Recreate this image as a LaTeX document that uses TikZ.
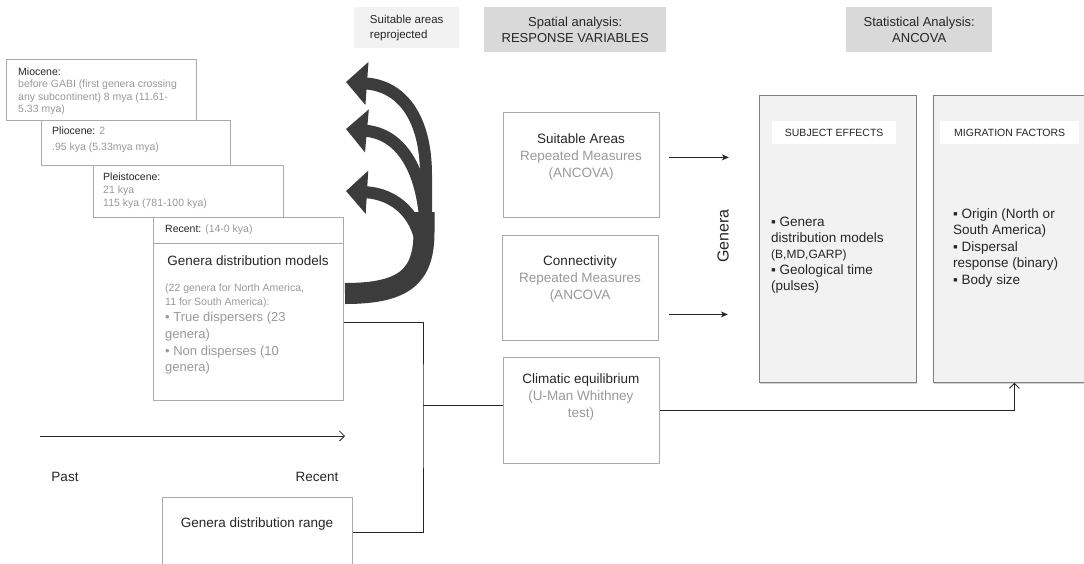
\documentclass[tikz,border=0pt]{standalone}
\usepackage{fontspec}
\setmainfont{Liberation Sans}
\usetikzlibrary{arrows.meta,shadows}
\definecolor{ink}{HTML}{262626}
\definecolor{soft}{HTML}{999999}
\definecolor{rule}{HTML}{ABABAB}
\definecolor{band}{HTML}{3C3C3C}
\definecolor{pale}{HTML}{F2F2F2}
\definecolor{mid}{HTML}{D9D9D9}
\newcommand{\fs}[2]{\fontsize{#1}{#2}\selectfont}

\begin{document}
\begin{tikzpicture}[x=1pt,y=-1pt,
	box/.style={draw=rule,fill=white,line width=.8pt,inner sep=0pt,anchor=north west},
	headbox/.style={fill=mid,inner sep=0pt,anchor=north west,text=ink},
	stat/.style={draw=rule!75!black,fill=pale,line width=.8pt,inner sep=0pt,anchor=north west,
		drop shadow={shadow xshift=1pt,shadow yshift=-1.5pt,opacity=.35}},
	txt/.style={inner sep=0pt,text=soft,align=left,anchor=north west},
	lbl/.style={inner sep=0pt,text=ink},
	link/.style={draw=ink,line width=.8pt},
	pointer/.style={link,-{Stealth[length=7pt,width=6pt]}},
	openptr/.style={link,-{Straight Barb[length=5pt,width=10pt]}},
	bigarrow/.style={draw=band,line width=12pt,-{Triangle[length=21pt,width=42pt]}}
	]
	
	\path[use as bounding box] (0,0) rectangle (1084,563);
	\clip (0,0) rectangle (1084,563);
	
	% headers
	\node[headbox,fill=pale,minimum width=105pt,minimum height=41pt,align=left,font=\fs{11.5}{15}] (reproj) at (354,7) {Suitable areas\\reprojected};
	\node[headbox,minimum width=182pt,minimum height=45pt,align=center,font=\fs{13}{16}] (spatial) at (484,7) {Spatial analysis:\\RESPONSE VARIABLES};
	\node[headbox,minimum width=146pt,minimum height=45pt,align=center,font=\fs{13}{15.5}] (statistical) at (846,7) {Statistical Analysis:\\ANCOVA};
	
	% time slices
	\node[box,minimum width=190pt,minimum height=61pt] (miocene) at (6,59) {};
	\node[txt,font=\fs{10.5}{12.5}] (miotext) at (18,67.5) {\textcolor{ink}{Miocene:}\\before GABI (first genera crossing\\any subcontinent) 8 mya (11.61-\\5.33 mya)};
	
	\node[box,minimum width=189pt,minimum height=45pt] (pliocene) at (41,120) {};
	\node[txt,font=\fs{10.5}{12.5}] (pliotext) at (52,126.5) {\textcolor{ink}{Pliocene:} 2\\[3.5pt].95 kya (5.33mya mya)};
	
	\node[box,minimum width=190pt,minimum height=52pt] (pleistocene) at (93,165) {};
	\node[txt,font=\fs{10.5}{13}] (pleistext) at (103,172.5) {\textcolor{ink}{Pleistocene:}\\21 kya\\115 kya (781-100 kya)};
	
	\node[box,minimum width=190pt,minimum height=183pt] (recent) at (153,217) {};
	\draw[draw=rule,line width=.8pt] ([yshift=-26pt]recent.north west) -- ([yshift=-26pt]recent.north east);
	\node[txt,anchor=west,font=\fs{10.5}{12.5}] (recenttag) at (165,229.5) {\textcolor{ink}{Recent:} (14-0 kya)};
	\node[lbl,font=\fs{13.5}{16}] (gdm) at (248,261) {Genera distribution models};
	\node[txt,font=\fs{10.5}{14}] (gdmnote) at (165,284) {(22 genera for North America,\\11 for South America):};
	\node[txt,font=\fs{13}{16.7}] (gdmlist) at (165,312) {• True dispersers (23\\genera)\\• Non disperses (10\\genera)};
	
	% projection arrows
	\draw[draw=band,line width=21pt] (345,293.5) .. controls (405,293.5) and (424,276) .. (424,232) -- (424,212);
	\draw[bigarrow] (426,232) -- (426,175) .. controls (426,118) and (402,86) .. (346,82);
	\draw[bigarrow] (426,240) .. controls (426,172) and (402,134) .. (346,129);
	\draw[bigarrow] (422,252) .. controls (420,216) and (396,194) .. (346,191);
	
	% time axis
	\coordinate (pastend) at (40,436);
	\coordinate (nowend) at (345,436);
	\draw[openptr] (pastend) -- (nowend);
	\node[lbl,font=\fs{13.5}{16}] (pastlbl) at (65,477) {Past};
	\node[lbl,font=\fs{13.5}{16}] (recentlbl) at (317,477) {Recent};
	
	\node[box,minimum width=190pt,minimum height=70pt] (range) at (162,497) {};
	\node[lbl,font=\fs{13.5}{16}] (rangelbl) at (257,524) {Genera distribution range};
	
	% response variables
	\node[box,minimum width=156pt,minimum height=105pt] (suitable) at (503,112) {};
	\node[lbl,anchor=north,align=center,font=\fs{13.5}{17}] (suitabletxt) at (581,133.5) {Suitable Areas\\\textcolor{soft}{Repeated Measures}\\\textcolor{soft}{(ANCOVA)}};
	
	\node[box,minimum width=156pt,minimum height=105pt] (connect) at (502,235) {};
	\node[lbl,anchor=north,align=center,font=\fs{13.5}{17}] (connecttxt) at (580,255.5) {Connectivity\\\textcolor{soft}{Repeated Measures}\\\textcolor{soft}{(ANCOVA}};
	
	\node[box,minimum width=156pt,minimum height=106pt] (climatic) at (503,357) {};
	\node[lbl,anchor=north,align=center,font=\fs{13.5}{17}] (climatictxt) at (581,374) {Climatic equilibrium\\\textcolor{soft}{(U-Man Whithney}\\\textcolor{soft}{test)}};
	
	\node[lbl,rotate=90,font=\fs{16}{19}] (genera) at (723,236) {Genera};
	
	\draw[pointer] ([xshift=9pt,yshift=7.5pt]suitable.east) -- ++(60,0);
	\draw[pointer] ([xshift=10pt,yshift=-26.5pt]connect.east) -- ++(59,0);
	
	% statistical analysis
	\node[stat,minimum width=157pt,minimum height=287pt] (subject) at (759,95) {};
	\node[stat,minimum width=162pt,minimum height=287pt] (migration) at (933,95) {};
	\node[fill=white,inner sep=0pt,anchor=north west,minimum width=124pt,minimum height=23pt,text=ink,font=\fs{10.5}{12}] (subjecttag) at (772,121) {SUBJECT EFFECTS};
	\node[fill=white,inner sep=0pt,anchor=north west,minimum width=139pt,minimum height=23pt,text=ink,font=\fs{10.5}{12}] (migrationtag) at (940,121) {MIGRATION FACTORS};
	\node[lbl,anchor=north west,align=left,font=\fs{13.5}{16}] (subjectlist) at (771,216.5) {▪ Genera\\distribution models\\{\fs{12}{16}(B,MD,GARP)}\\▪ Geological time\\(pulses)};
	\node[lbl,anchor=north west,align=left,font=\fs{13.5}{16.5}] (migrationlist) at (953,208.5) {▪ Origin (North or\\South America)\\▪ Dispersal\\response (binary)\\▪ Body size};
	
	% connectors
	\coordinate (fork) at (423,405);
	\draw[link] ([yshift=-13.5pt]recent.east) -| (fork) |- (range.east);
	\draw[link] (fork) -- (fork -| climatic.west);
	\draw[openptr] (climatic.east) -| (migration.south);
	
\end{tikzpicture}
\end{document}
